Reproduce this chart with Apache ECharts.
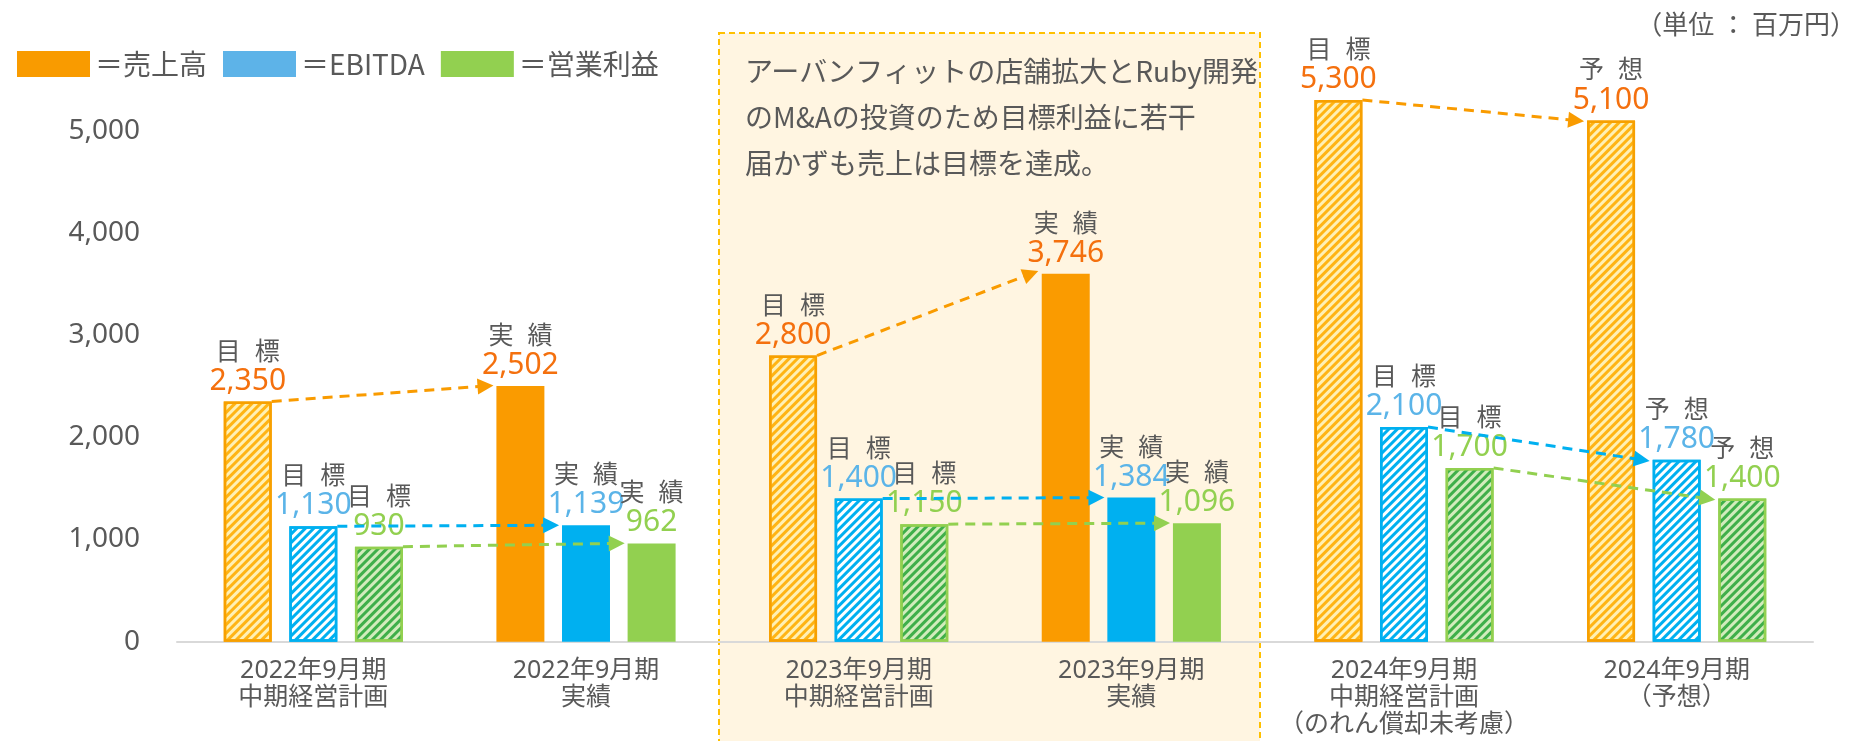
<!DOCTYPE html>
<html>
<head>
<meta charset="utf-8">
<script src="https://cdn.jsdelivr.net/npm/echarts@6/dist/echarts.min.js"></script>
<style>
html,body{margin:0;padding:0;background:#fff;}
#chart{width:1860px;height:741px;}
</style>
</head>
<body>
<div id="chart"></div>
<script>
// ---- data ----
const categories = [
  '2022年9月期\n中期経営計画',
  '2022年9月期\n実績',
  '2023年9月期\n中期経営計画',
  '2023年9月期\n実績',
  '2024年9月期\n中期経営計画\n（のれん償却未考慮）',
  '2024年9月期\n（予想）'
];
const seriesNames = ['売上高', 'EBITDA', '営業利益'];
// bar heights as drawn in the picture
const salesValues  = [2350, 2502, 2800, 3600, 5300, 5100];
const ebitdaValues = [1130, 1139, 1400, 1410, 2100, 1780];
const opValues     = [930, 962, 1150, 1160, 1700, 1400];
// value labels as printed
const salesLabels  = ['2,350', '2,502', '2,800', '3,746', '5,300', '5,100'];
const ebitdaLabels = ['1,130', '1,139', '1,400', '1,384', '2,100', '1,780'];
const opLabels     = ['930', '962', '1,150', '1,096', '1,700', '1,400'];
const statusWords  = [['目','標'], ['実','績'], ['目','標'], ['実','績'], ['目','標'], ['予','想']];
const hatched      = [true, false, true, false, true, true];
const arrowPairs   = [[0, 1], [2, 3], [4, 5]];
const yMax = 5500, yInterval = 1000;
const annotationLines = ['アーバンフィットの店舗拡大とRuby開発', 'のM&Aの投資のため目標利益に若干', '届かずも売上は目標を達成。'];
const unitText = '（単位 ： 百万円）';

// ---- style ----
const LATIN = "'Noto Sans', 'Noto Sans CJK JP', sans-serif";
const CJK = "'Noto Sans CJK JP', 'Noto Sans', sans-serif";
const GREY = '#595959';
const BAR_W = 0.176;   // fraction of category band
const BAR_GAP = 0.367; // fraction of bar width
const ARROW_BACK = 0.04;

const styles = [
  { solid: '#FA9B00', hatchBase: '#FFF0B4', hatchLine: '#FFB414', border: '#F7A000', label: '#F4700E', legend: '#F99B00', arrow: '#F99B00' },
  { solid: '#00B0F0', hatchBase: '#FFFFFF', hatchLine: '#00B0F0', border: '#00B0F0', label: '#5BB4E8', legend: '#5DB3E8', arrow: '#00B0F0' },
  { solid: '#92D050', hatchBase: '#D2ECBC', hatchLine: '#3FAF4A', border: '#92D050', label: '#92D050', legend: '#92D050', arrow: '#92D050' }
];
const allValues = [salesValues, ebitdaValues, opValues];
const allLabels = [salesLabels, ebitdaLabels, opLabels];

function barSeries(k) {
  const st = styles[k];
  return {
    name: seriesNames[k],
    type: 'bar',
    barWidth: (BAR_W * 100) + '%',
    barGap: (BAR_GAP * 100) + '%',
    itemStyle: { color: st.solid },
    z: 3,
    data: allValues[k].map((v, i) => {
      const d = { value: v };
      if (hatched[i]) {
        d.itemStyle = {
          color: st.hatchBase,
          borderColor: st.border,
          borderWidth: 2.5,
          decal: {
            symbol: 'rect', symbolSize: 1,
            dashArrayX: [1, 0], dashArrayY: [2.5, 2.5],
            rotation: -Math.PI / 4, color: st.hatchLine
          }
        };
      }
      return d;
    }),
    label: {
      show: true,
      position: 'top',
      distance: 5,
      formatter: p => '{h|' + statusWords[p.dataIndex][0] + '}{s| }{h|' + statusWords[p.dataIndex][1] + '}\n{v|' + allLabels[k][p.dataIndex] + '}',
      rich: {
        h: { fontSize: 25, color: GREY, lineHeight: 31, fontFamily: CJK },
        s: { fontSize: 25, width: 14, lineHeight: 31 },
        v: { fontSize: 30, color: st.label, lineHeight: 31, fontFamily: LATIN }
      }
    }
  };
}

function barCenterOffset(k) { return (k - 1) * (BAR_W + BAR_GAP * BAR_W); }

function arrowSeries(k) {
  const st = styles[k];
  const vals = allValues[k];
  return {
    type: 'lines',
    coordinateSystem: 'cartesian2d',
    xAxisIndex: 1, yAxisIndex: 0,
    silent: true,
    z: 6,
    symbol: ['none', 'triangle'],
    symbolSize: [15, 16],
    lineStyle: { color: st.arrow, width: 3, type: [10, 7], opacity: 1, curveness: 0 },
    itemStyle: { color: st.arrow },
    data: arrowPairs.map(([a, b]) => ({
      coords: [
        [a + 0.5 + barCenterOffset(k) + BAR_W / 2, vals[a]],
        [b + 0.5 + barCenterOffset(k) - BAR_W / 2 - ARROW_BACK, vals[b]]
      ]
    }))
  };
}

const chart = echarts.init(document.getElementById('chart'), null, { renderer: 'canvas' });
chart.setOption({
  backgroundColor: '#ffffff',
  animation: false,
  textStyle: { fontFamily: LATIN },
  grid: { left: 177, right: 47, top: 79.6, bottom: 99.3, containLabel: false, outerBoundsMode: 'none' },
  legend: {
    left: 12, top: 45,
    icon: 'rect', itemWidth: 73, itemHeight: 26, itemGap: 16,
    selectedMode: false,
    formatter: n => '＝' + n,
    textStyle: { fontSize: 28, color: GREY, fontFamily: CJK, padding: [0, 0, 0, 0] },
    data: seriesNames.map((n, k) => ({ name: n, itemStyle: { color: styles[k].legend, decal: 'none', borderWidth: 0 } }))
  },
  xAxis: [
    {
      type: 'category', data: categories,
      axisLine: { lineStyle: { color: '#D9D9D9', width: 2 } },
      axisTick: { show: false },
      axisLabel: { fontSize: 25, lineHeight: 27, margin: 16, color: GREY, fontFamily: LATIN, interval: 0 }
    },
    { type: 'value', min: 0, max: categories.length, show: false, gridIndex: 0 }
  ],
  yAxis: {
    type: 'value', min: 0, max: yMax, interval: yInterval,
    axisLine: { show: false }, axisTick: { show: false }, splitLine: { show: false },
    axisLabel: {
      fontSize: 28, color: GREY, margin: 37, fontFamily: LATIN,
      formatter: v => (v % yInterval === 0 ? v.toLocaleString('en-US') : '')
    }
  },
  graphic: [
    {
      type: 'rect', z: -10, silent: true,
      shape: { x: 719, y: 33, width: 541, height: 730 },
      style: { fill: '#FFF5E1', stroke: '#FFC000', lineWidth: 2, lineDash: [6, 4] }
    },
    {
      type: 'text', z: 10, silent: true, x: 745, y: 48,
      style: { text: annotationLines.join('\n'), font: "28px 'Noto Sans CJK JP', sans-serif", fill: GREY, lineHeight: 46 }
    },
    {
      type: 'text', z: 10, silent: true, x: 1856, y: 24,
      style: { text: unitText, font: "26px 'Noto Sans CJK JP', sans-serif", fill: GREY, align: 'right', verticalAlign: 'middle' }
    }
  ],
  series: [barSeries(0), barSeries(1), barSeries(2), arrowSeries(0), arrowSeries(1), arrowSeries(2)]
});
</script>
</body>
</html>
